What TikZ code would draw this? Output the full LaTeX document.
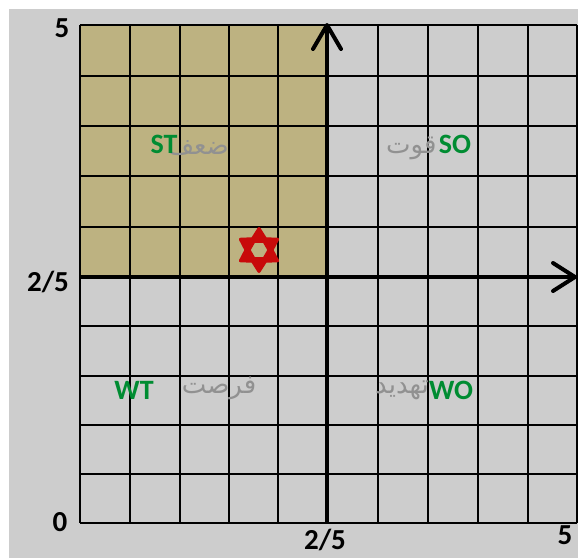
\documentclass[tikz,border=0pt]{standalone}
\usepackage{fontspec}
\setmainfont{Carlito}
\newfontfamily\arabicfont[Script=Arabic]{DejaVu Sans}
\TeXXeTstate=1
\definecolor{bgray}{RGB}{205,205,205}
\definecolor{tanq}{RGB}{189,178,129}
\definecolor{lblgreen}{RGB}{0,140,50}
\definecolor{argray}{RGB}{145,145,145}
\definecolor{starred}{RGB}{200,10,10}
\begin{document}
\begin{tikzpicture}[x=1pt,y=-1pt,
  num/.style={font=\fontsize{29}{29}\selectfont\bfseries, text=black, inner sep=0pt},
  code/.style={font=\fontsize{28}{28}\selectfont\bfseries, text=lblgreen, inner sep=0pt},
  fa/.style={font=\arabicfont\fontsize{26}{26}\selectfont, text=argray, inner sep=0pt},
  gridline/.style={line width=1.6pt, black},
  axisline/.style={line width=4pt, black},
  axtip/.style={line width=4pt, black, line cap=round, line join=round}]
\useasboundingbox (0,0) rectangle (578,558);
\fill[white] (0,0) rectangle (578,558);
\fill[bgray] (9,9) rectangle (578,558);
\fill[tanq] (80,25) rectangle (327,277);
% grid
\foreach \x in {80,130,180,229,278,378,428,478,528,577}
  \draw[gridline] (\x,25) -- (\x,523);
\foreach \y in {25,76,126,176,227,326,376,425,474,523}
  \draw[gridline] (80,\y) -- (577,\y);
% axes
\coordinate (ytop) at (327,25);
\coordinate (ybot) at (327,523);
\coordinate (xleft) at (80,277);
\coordinate (xright) at (575,277);
\draw[axisline] (ybot) -- (ytop);
\draw[axisline] (xleft) -- (xright);
\draw[axtip] (ytop) ++(-14,24) -- (ytop) -- ++(14,24);
\draw[axtip] (xright) ++(-22,-14) -- (xright) -- ++(-22,14);
% numbers
\node[num] (n5top) at (62,28) {5};
\node[num] (n25left) at (48,282) {2/5};
\node[num] (n0) at (60,522) {0};
\node[num] (n25bot) at (325,540) {2/5};
\node[num] (n5bot) at (565,535) {5};
% persian labels
\node[fa, anchor=east] (zaf) at (229,148) {\beginR ضعف\endR};
\node[fa, anchor=west] (ghovat) at (386,148) {\beginR قوت\endR};
\node[fa] (forsat) at (219,388) {\beginR فرصت\endR};
\node[fa, anchor=west] (tahdid) at (375,390) {\beginR تهدید\endR};
% codes
\node[code] (st) at (164,144) {ST};
\node[code] (so) at (455,144) {SO};
\node[code] (wt) at (134,390) {WT};
\node[code] (wo) at (451,390) {WO};
% star
\begin{scope}[shift={(259,250)}]
\filldraw[starred, even odd rule, line width=3pt, line join=round]
  (90:21.5) -- (120:13) -- (150:21.5) -- (180:13) -- (210:21.5) -- (240:13)
  -- (270:21.5) -- (300:13) -- (330:21.5) -- (0:13) -- (30:21.5) -- (60:13) -- cycle
  (0:10) -- (60:10) -- (120:10) -- (180:10) -- (240:10) -- (300:10) -- cycle;
\end{scope}
\end{tikzpicture}
\end{document}
